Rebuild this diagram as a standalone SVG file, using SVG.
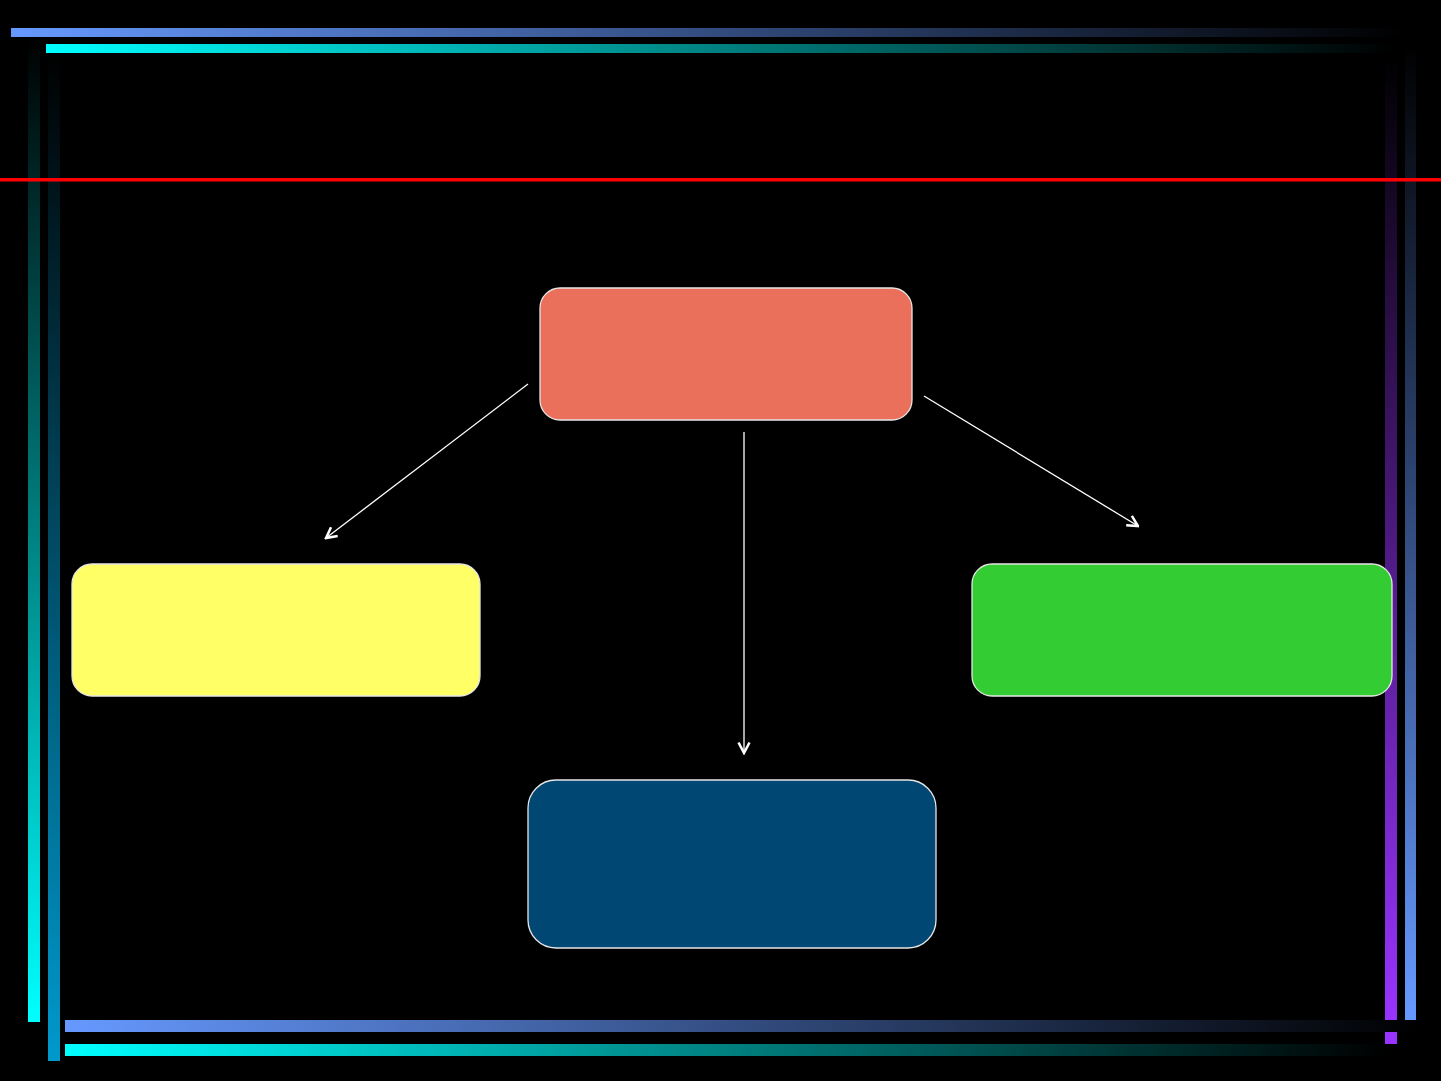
<svg xmlns="http://www.w3.org/2000/svg" width="1441" height="1081" viewBox="0 0 1441 1081">
<defs>
<linearGradient id="gBlueH" x1="0" y1="0" x2="1" y2="0"><stop offset="0" stop-color="#6699ff"/><stop offset="1" stop-color="#000000"/></linearGradient>
<linearGradient id="gCyanH" x1="0" y1="0" x2="1" y2="0"><stop offset="0" stop-color="#00ffff"/><stop offset="1" stop-color="#000000"/></linearGradient>
<linearGradient id="gCyanV" x1="0" y1="0" x2="0" y2="1"><stop offset="0" stop-color="#000000"/><stop offset="1" stop-color="#00ffff"/></linearGradient>
<linearGradient id="gTealV" x1="0" y1="0" x2="0" y2="1"><stop offset="0" stop-color="#000000"/><stop offset="1" stop-color="#0099cc"/></linearGradient>
<linearGradient id="gPurpleV" x1="0" y1="0" x2="0" y2="1"><stop offset="0" stop-color="#000000"/><stop offset="1" stop-color="#9933ff"/></linearGradient>
<linearGradient id="gBlueV" x1="0" y1="0" x2="0" y2="1"><stop offset="0" stop-color="#000000"/><stop offset="1" stop-color="#6699ff"/></linearGradient>
<marker id="arr" viewBox="0 0 14 14" refX="12.5" refY="7" markerWidth="14" markerHeight="14" markerUnits="userSpaceOnUse" orient="auto">
<path d="M2,1.5 L12.5,7 L2,12.5" fill="none" stroke="#ffffff" stroke-width="2.5"/>
</marker>
<style>
.node{stroke:#e6e6e6;stroke-width:1.3}
.conn{stroke:#ffffff;stroke-width:1.3;fill:none;marker-end:url(#arr)}
</style>
</defs>
<rect x="0" y="0" width="1441" height="1081" fill="#000000"/>
<g id="frame">
<rect x="11" y="28" width="1395" height="9" fill="url(#gBlueH)"/>
<rect x="46" y="44" width="1350" height="9" fill="url(#gCyanH)"/>
<rect x="28" y="37" width="12" height="985" fill="url(#gCyanV)"/>
<rect x="48" y="53" width="12" height="1008" fill="url(#gTealV)"/>
<rect x="1385" y="55" width="12" height="965" fill="url(#gPurpleV)"/>
<rect x="1385" y="1032" width="12" height="12" fill="#9933ff"/>
<rect x="1405" y="43" width="11" height="977" fill="url(#gBlueV)"/>
<rect x="65" y="1020" width="1357" height="12" fill="url(#gBlueH)"/>
<rect x="65" y="1044" width="1322" height="12" fill="url(#gCyanH)"/>
<rect x="0" y="178" width="1441" height="3.5" fill="#ff0000"/>
</g>
<g id="connectors">
<line class="conn" x1="528" y1="384" x2="326" y2="538"/>
<line class="conn" x1="924" y1="396" x2="1138" y2="526"/>
<line class="conn" x1="744" y1="432" x2="744" y2="753"/>
</g>
<g id="node-top"><rect class="node" x="540" y="288" width="372" height="132" rx="20" fill="#eb705c"/></g>
<g id="node-left"><rect class="node" x="72" y="564" width="408" height="132" rx="20" fill="#ffff66"/></g>
<g id="node-right"><rect class="node" x="972" y="564" width="420" height="132" rx="20" fill="#33cc33"/></g>
<g id="node-bottom"><rect class="node" x="528" y="780" width="408" height="168" rx="28" fill="#004773"/></g>
</svg>
